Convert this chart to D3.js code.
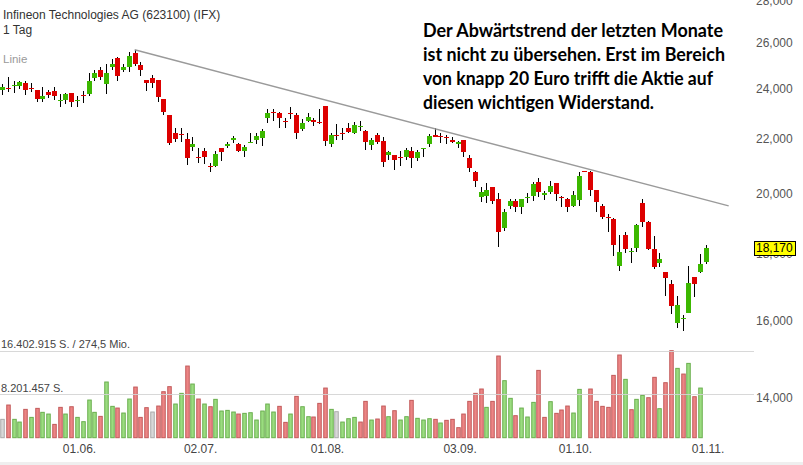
<!DOCTYPE html>
<html><head><meta charset="utf-8">
<script src="https://cdn.jsdelivr.net/npm/d3@7"></script>
<style>body{margin:0;background:#fff} svg{display:block}</style>
</head><body>
<svg id="c" width="803" height="465"></svg>
<script>
// ---------- DATA ----------
const dates = [
"15.05.","16.05.","17.05.","18.05.","21.05.","22.05.","23.05.","24.05.","25.05.","28.05.","29.05.","30.05.","31.05.",
"01.06.","04.06.","05.06.","06.06.","07.06.","08.06.","11.06.","12.06.","13.06.","14.06.","15.06.","18.06.","19.06.","20.06.","21.06.","22.06.","25.06.","26.06.","27.06.","28.06.","29.06.",
"02.07.","03.07.","04.07.","05.07.","06.07.","09.07.","10.07.","11.07.","12.07.","13.07.","16.07.","17.07.","18.07.","19.07.","20.07.","23.07.","24.07.","25.07.","26.07.","27.07.","30.07.","31.07.",
"01.08.","02.08.","03.08.","06.08.","07.08.","08.08.","09.08.","10.08.","13.08.","14.08.","15.08.","16.08.","17.08.","20.08.","21.08.","22.08.","23.08.","24.08.","27.08.","28.08.","29.08.","30.08.","31.08.",
"03.09.","04.09.","05.09.","06.09.","07.09.","10.09.","11.09.","12.09.","13.09.","14.09.","17.09.","18.09.","19.09.","20.09.","21.09.","24.09.","25.09.","26.09.","27.09.","28.09.",
"01.10.","02.10.","03.10.","04.10.","05.10.","08.10.","09.10.","10.10.","11.10.","12.10.","15.10.","16.10.","17.10.","18.10.","19.10.","22.10.","23.10.","24.10.","25.10.","26.10.","29.10.","30.10.","31.10.",
"01.11."];

const open = [
23.94,24.03,24.15,24.11,24.24,24.03,23.94,23.58,23.86,23.90,
23.53,23.54,23.82,23.53,23.74,23.78,24.46,24.77,24.20,24.94,
25.33,24.77,24.94,25.55,25.03,24.37,24.46,24.37,23.58,22.94,
22.22,22.18,21.98,21.69,21.29,21.51,20.96,20.96,21.62,21.73,
21.95,21.80,21.54,21.87,21.95,22.02,22.82,23.06,23.02,22.70,
23.02,22.94,22.38,22.70,22.74,22.66,23.30,21.80,22.15,22.22,
22.42,22.22,22.49,22.30,21.76,22.14,21.91,21.36,21.36,21.29,
21.29,21.51,21.25,21.61,21.80,22.14,22.10,22.06,21.95,21.80,
21.95,21.25,20.74,19.87,19.90,20.22,19.80,18.81,19.57,19.74,
19.54,19.86,19.90,20.41,19.94,20.04,20.37,19.88,19.80,19.57,
19.77,20.78,20.74,20.11,19.57,19.18,19.11,17.60,18.58,18.07,
18.18,19.67,19.01,18.15,17.72,17.42,17.07,15.95,16.08,16.24,
17.28,17.42,17.75];

const high = [
24.20,24.51,24.33,24.33,24.33,24.24,23.94,24.07,23.94,24.07,
23.78,23.82,23.82,23.70,23.90,24.68,24.81,24.90,25.07,25.25,
25.38,25.07,25.59,25.68,25.12,24.37,24.59,24.37,23.58,22.94,
22.42,22.42,22.22,22.06,21.62,21.62,21.07,21.54,21.65,21.87,
22.10,21.84,21.76,22.22,22.22,22.38,23.18,23.18,23.06,22.82,
23.26,23.02,22.78,23.02,22.82,23.18,23.30,22.22,22.58,22.42,
22.62,22.66,22.70,22.34,22.02,22.22,22.06,21.54,21.36,21.51,
21.65,21.69,21.58,21.65,22.18,22.42,22.22,22.14,22.06,21.91,
21.95,21.36,20.77,20.22,20.37,20.22,20.00,19.44,19.80,19.80,
19.80,20.00,20.41,20.55,20.08,20.44,20.37,19.90,19.84,20.08,
20.74,20.78,20.77,20.11,19.61,19.27,19.14,18.58,18.68,18.18,
18.94,19.80,19.04,18.55,18.02,17.42,17.19,16.71,16.18,17.60,
17.28,17.99,18.28];

const low = [
23.74,23.86,23.82,23.98,23.74,23.86,23.46,23.46,23.62,23.54,
23.26,23.38,23.26,23.26,23.42,23.70,24.33,24.37,23.78,24.81,
24.33,24.72,24.72,24.98,24.55,23.90,24.03,23.46,22.94,21.76,
21.87,21.87,20.99,21.54,21.07,21.03,20.74,20.92,21.14,21.62,
21.84,21.47,21.32,21.84,21.80,21.73,22.62,22.70,22.42,22.42,
22.78,21.98,22.30,22.66,22.50,22.58,21.73,21.69,21.95,21.95,
22.22,22.18,22.30,21.58,21.58,21.80,20.92,21.18,20.81,20.96,
21.18,20.88,21.14,21.32,21.69,22.06,21.84,21.80,21.84,21.65,
21.29,20.74,20.22,19.71,19.67,19.64,18.22,18.71,19.47,19.34,
19.27,19.67,19.74,19.87,19.77,19.97,19.74,19.54,19.37,19.54,
19.57,20.77,19.90,19.34,19.11,18.68,17.93,17.45,18.02,17.72,
18.05,18.84,18.12,17.51,17.57,16.71,16.21,15.82,15.72,16.24,
16.68,17.39,17.69];

const close = [
24.07,24.02,24.16,24.29,23.94,24.02,23.58,23.70,23.74,23.70,
23.54,23.78,23.46,23.54,23.73,24.33,24.68,24.51,24.68,25.07,
24.55,24.94,25.42,25.07,24.81,24.24,24.24,23.66,23.06,21.84,
21.98,22.17,21.25,21.80,21.28,21.32,20.95,21.43,21.47,21.80,
22.02,21.54,21.69,21.88,22.10,22.30,23.02,23.05,22.82,22.69,
23.01,22.22,22.62,22.86,22.66,22.65,21.91,22.14,22.14,22.21,
22.26,22.54,22.50,21.87,21.95,21.87,21.10,21.47,21.18,21.28,
21.58,21.25,21.47,21.62,22.10,22.06,22.09,22.05,21.87,21.86,
21.47,20.88,20.44,20.04,20.11,19.74,18.68,19.34,19.74,19.54,
19.80,19.87,20.33,20.04,20.00,20.26,19.97,19.87,19.54,19.94,
20.59,20.77,20.11,19.71,19.18,19.17,18.28,18.05,18.15,18.08,
18.91,19.01,18.15,17.57,17.84,17.25,16.42,16.45,16.09,17.10,
17.07,17.69,18.17];

// volume in million shares (null = no volume shown)
const volume = [
3.46,6.16,3.46,2.95,5.34,3.83,5.53,4.78,4.46,2.51,
5.72,4.46,5.84,3.83,3.02,7.10,4.78,4.02,10.50,5.91,
5.59,4.65,7.29,9.55,3.83,5.66,4.84,5.97,8.67,9.62,
6.35,8.36,13.51,10.12,7.29,6.35,5.84,7.23,5.03,5.15,
4.84,4.46,4.59,4.71,3.33,5.03,6.35,4.84,5.91,2.89,
4.46,7.79,5.84,3.96,3.90,6.47,9.36,5.34,4.90,2.95,
3.58,3.83,2.95,6.85,3.33,3.52,5.97,3.96,5.09,3.33,
3.96,7.04,3.65,3.33,3.58,3.46,2.77,3.27,3.46,1.89,
4.46,6.85,8.36,9.18,5.72,6.85,15.40,10.75,7.42,4.15,
5.59,3.90,6.66,12.69,3.83,6.79,4.59,5.22,5.97,4.65,
9.11,null,9.18,6.85,5.91,5.72,11.75,15.59,11.00,5.28,
7.23,7.98,7.54,11.38,5.47,10.37,16.402915,13.07,12.00,14.01,
7.73,9.36,null];

const maxTurnoverMio = 274.5;
const priceTicks = [14,16,18,20,22,24,26,28];
const dateTicks = ["01.06.","02.07.","01.08.","03.09.","01.10.","01.11."];
const trendStart = {index: 23, price: 25.68};
const trendEnd = {index: 126, price: 19.56};
const lastPrice = 18.17;

const title = "Infineon Technologies AG (623100) (IFX)";
const period = "1 Tag";
const noteLines = ["Der Abwärtstrend der letzten Monate",
                   "ist nicht zu übersehen. Erst im Bereich",
                   "von knapp 20 Euro trifft die Aktie auf",
                   "diesen wichtigen Widerstand."];
const noteWidths = [300, 302, 290, 231];

// ---------- CHART ----------
const svg = d3.select("#c");
const FONT = "'Liberation Sans', Arial, sans-serif";
const de = d3.formatLocale({decimal: ",", thousands: ".", grouping: [3], currency: ["", "€"]});
const fmtPrice = de.format(".3f");
const fmtInt = de.format(",d");

const x = d3.scaleLinear().domain([0, dates.length - 1]).range([2, 705.6]);
const y = d3.scaleLog().domain([14, 28]).range([397.7, 0.2]);
const maxVol = d3.max(volume);
const yv = d3.scaleLinear().domain([0, maxVol]).range([437.7, 350.7]);

svg.append("rect").attr("width", 803).attr("height", 465).attr("fill", "#fff");
svg.append("rect").attr("x", 0).attr("y", 462).attr("width", 803).attr("height", 3).attr("fill", "#efefef");

const idx = d3.range(dates.length);
const px = i => Math.round(x(i)) + 0.5;

// volume bars
const volColor = i => {
  if (i === 0) return "n";
  const d = close[i] - close[i - 1];
  if (Math.abs(d) < 0.005) return "n";
  return d > 0 ? "u" : "d";
};
const vFill = {u: "#9bdc80", d: "#ec8585", n: "#d8d8d8"};
const vStroke = {u: "#6aae4e", d: "#c25a5a", n: "#ababab"};
svg.append("g").selectAll("rect")
  .data(idx.filter(i => volume[i] != null))
  .join("rect")
  .attr("x", i => px(i) - 1.75)
  .attr("width", 3.5)
  .attr("y", i => yv(volume[i]))
  .attr("height", i => yv(0) - yv(volume[i]))
  .attr("fill", i => vFill[volColor(i)])
  .attr("stroke", i => vStroke[volColor(i)])
  .attr("stroke-width", 1);

// volume grid lines
[maxVol, maxVol / 2].forEach(v => {
  svg.append("line").attr("x1", 0).attr("x2", 754)
    .attr("y1", Math.round(yv(v)) + 0.5).attr("y2", Math.round(yv(v)) + 0.5)
    .attr("stroke", "#d4d4d4").attr("stroke-width", 1).attr("opacity", 0.9);
});
const maxShares = Math.round(maxVol * 1e6);
svg.append("text").attr("x", 1).attr("y", yv(maxVol) - 2.5)
  .attr("font-family", FONT).attr("font-size", 11).attr("fill", "#444")
  .text(fmtInt(maxShares) + " S. / " + de.format(".1f")(maxTurnoverMio) + " Mio.");
svg.append("text").attr("x", 1).attr("y", yv(maxVol / 2) - 2.5)
  .attr("font-family", FONT).attr("font-size", 11).attr("fill", "#444")
  .text(fmtInt(Math.floor(maxShares / 2)) + " S.");

// candles
const cg = svg.append("g");
cg.selectAll("line").data(idx).join("line")
  .attr("x1", px).attr("x2", px)
  .attr("y1", i => Math.round(y(high[i])))
  .attr("y2", i => Math.round(y(low[i])))
  .attr("stroke", "#000").attr("stroke-width", 1);
cg.selectAll("rect").data(idx).join("rect")
  .attr("x", i => Math.round(x(i)) - 2)
  .attr("width", 5)
  .attr("y", i => Math.round(y(Math.max(open[i], close[i]))))
  .attr("height", i => Math.max(1, Math.round(y(Math.min(open[i], close[i]))) - Math.round(y(Math.max(open[i], close[i])))))
  .attr("fill", i => close[i] > open[i] ? "#3cb800" : "#dd0000");

// trend line
svg.append("line")
  .attr("x1", x(trendStart.index)).attr("y1", y(trendStart.price))
  .attr("x2", x(trendEnd.index)).attr("y2", y(trendEnd.price))
  .attr("stroke", "#9a9a9a").attr("stroke-width", 1.4);

// price axis
const ya = svg.append("g").attr("transform", "translate(756,0)")
  .call(d3.axisRight(y).tickValues(priceTicks).tickFormat(fmtPrice).tickSize(0).tickPadding(0));
ya.select(".domain").remove();
ya.selectAll("text").attr("font-family", FONT).attr("font-size", 12).attr("fill", "#555");

// date axis
const xa = svg.append("g").attr("transform", "translate(0,441.5)")
  .call(d3.axisBottom(x).tickValues(dateTicks.map(d => dates.indexOf(d))).tickFormat(i => dates[i]).tickSize(0).tickPadding(3));
xa.select(".domain").remove();
xa.selectAll("text").attr("font-family", FONT).attr("font-size", 12).attr("fill", "#444").attr("dx", 2);

// last price marker
const yl = y(lastPrice);
svg.append("rect").attr("x", 754.5).attr("y", Math.round(yl) - 6.5).attr("width", 41).attr("height", 14)
  .attr("fill", "#ffff00").attr("stroke", "#000").attr("stroke-width", 1);
svg.append("text").attr("x", 756).attr("y", yl).attr("dy", "0.32em")
  .attr("font-family", FONT).attr("font-size", 12).attr("fill", "#000").text(fmtPrice(lastPrice));

// titles
svg.append("text").attr("x", 3).attr("y", 19.3).attr("font-family", FONT).attr("font-size", 12).attr("fill", "#333").text(title);
svg.append("text").attr("x", 3).attr("y", 33.5).attr("font-family", FONT).attr("font-size", 12).attr("fill", "#333").text(period);
svg.append("text").attr("x", 3).attr("y", 63.3).attr("font-family", FONT).attr("font-size", 11.5).attr("fill", "#9a9a9a").text("Linie");

// annotation
const baselines = [36.7, 60.7, 84.5, 108.7];
noteLines.forEach((t, k) => {
  svg.append("text").attr("x", 423).attr("y", baselines[k])
    .attr("font-family", "Lato, 'Open Sans', sans-serif").attr("font-weight", 700)
    .attr("font-size", 18).attr("fill", "#000")
    .attr("textLength", noteWidths[k]).attr("lengthAdjust", "spacingAndGlyphs")
    .text(t);
});
</script>
</body></html>
